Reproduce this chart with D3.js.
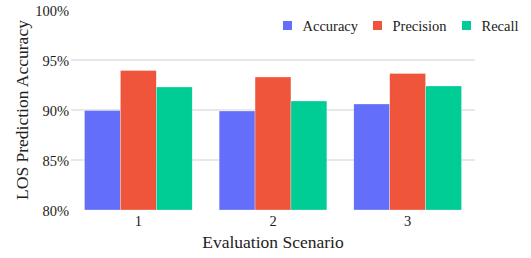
<!DOCTYPE html>
<html>
<head>
<meta charset="utf-8">
<script src="https://cdn.jsdelivr.net/npm/d3@7"></script>
<style>
  body { margin: 0; background: #fff; }
  text { font-family: "Liberation Serif", "Times New Roman", serif; fill: #222; }
</style>
</head>
<body>
<div id="chart"></div>
<script>
// data
var scenarios = ["1", "2", "3"];
var seriesNames = ["Accuracy", "Precision", "Recall"];
var accuracy = [89.95, 89.9, 90.6];
var precision = [93.95, 93.3, 93.65];
var recall = [92.3, 90.9, 92.4];
var yTicks = [80, 85, 90, 95, 100];

var colors = ["#636efa", "#ef553b", "#00cc96"];
var values = [accuracy, precision, recall];

var width = 531, height = 258;
var margin = {top: 10, right: 56, bottom: 48, left: 71};
var plotW = width - margin.left - margin.right,
    plotH = height - margin.top - margin.bottom;

var svg = d3.select("#chart")
  .append("svg")
    .attr("width", width)
    .attr("height", height);

var g = svg.append("g")
    .attr("transform", "translate(" + margin.left + "," + margin.top + ")");

var x = d3.scaleBand()
  .domain(scenarios)
  .range([0, plotW])
  .paddingInner(0.2)
  .paddingOuter(0.1);

var xInner = d3.scaleBand()
  .domain(seriesNames)
  .range([0, x.bandwidth()]);

var y = d3.scaleLinear()
  .domain([80, 100])
  .range([plotH, 0]);

// grid lines
g.append("g")
  .selectAll("line")
  .data(yTicks.filter(function(d) { return d > 80 && d < 100; }))
  .enter()
  .append("line")
    .attr("x1", 0)
    .attr("x2", plotW)
    .attr("y1", function(d) { return y(d); })
    .attr("y2", function(d) { return y(d); })
    .attr("stroke", "#e1e1e1")
    .attr("stroke-width", 1.5);

// y tick labels
g.append("g")
  .selectAll("text")
  .data(yTicks)
  .enter()
  .append("text")
    .attr("x", -2)
    .attr("y", function(d) { return y(d); })
    .attr("dy", "0.4em")
    .attr("text-anchor", "end")
    .style("font-size", "14.5px")
    .text(function(d) { return d + "%"; });

// bars
var groups = g.append("g")
  .selectAll("g")
  .data(scenarios)
  .enter()
  .append("g")
    .attr("transform", function(d) { return "translate(" + x(d) + ",0)"; });

groups.selectAll("rect")
  .data(function(d, i) {
    return seriesNames.map(function(s, j) { return {name: s, value: values[j][i], color: colors[j]}; });
  })
  .enter()
  .append("rect")
    .attr("x", function(d) { return xInner(d.name); })
    .attr("width", xInner.bandwidth())
    .attr("y", function(d) { return y(d.value); })
    .attr("height", function(d) { return plotH - y(d.value); })
    .attr("fill", function(d) { return d.color; })
    .attr("stroke", "#fff")
    .attr("stroke-opacity", 0.6)
    .attr("stroke-width", 0.5);

// x tick labels
g.append("g")
  .selectAll("text")
  .data(scenarios)
  .enter()
  .append("text")
    .attr("x", function(d) { return x(d) + x.bandwidth() / 2; })
    .attr("y", plotH + 16)
    .attr("text-anchor", "middle")
    .style("font-size", "14.5px")
    .text(function(d) { return d; });

// axis titles
svg.append("text")
  .attr("x", margin.left + plotW / 2)
  .attr("y", 248)
  .attr("text-anchor", "middle")
  .style("font-size", "17.5px")
  .text("Evaluation Scenario");

svg.append("text")
  .attr("transform", "translate(28," + (margin.top + plotH / 2) + ") rotate(-90)")
  .attr("text-anchor", "middle")
  .style("font-size", "17.5px")
  .text("LOS Prediction Accuracy");

// legend
var legendX = [283, 373, 462];
var legend = svg.append("g")
  .selectAll("g")
  .data(seriesNames)
  .enter()
  .append("g")
    .attr("transform", function(d, i) { return "translate(" + legendX[i] + ",21)"; });

legend.append("rect")
  .attr("width", 9)
  .attr("height", 9)
  .attr("fill", function(d, i) { return colors[i]; });

legend.append("text")
  .attr("x", 19.5)
  .attr("y", 9.5)
  .style("font-size", "14.5px")
  .text(function(d) { return d; });
</script>
</body>
</html>
